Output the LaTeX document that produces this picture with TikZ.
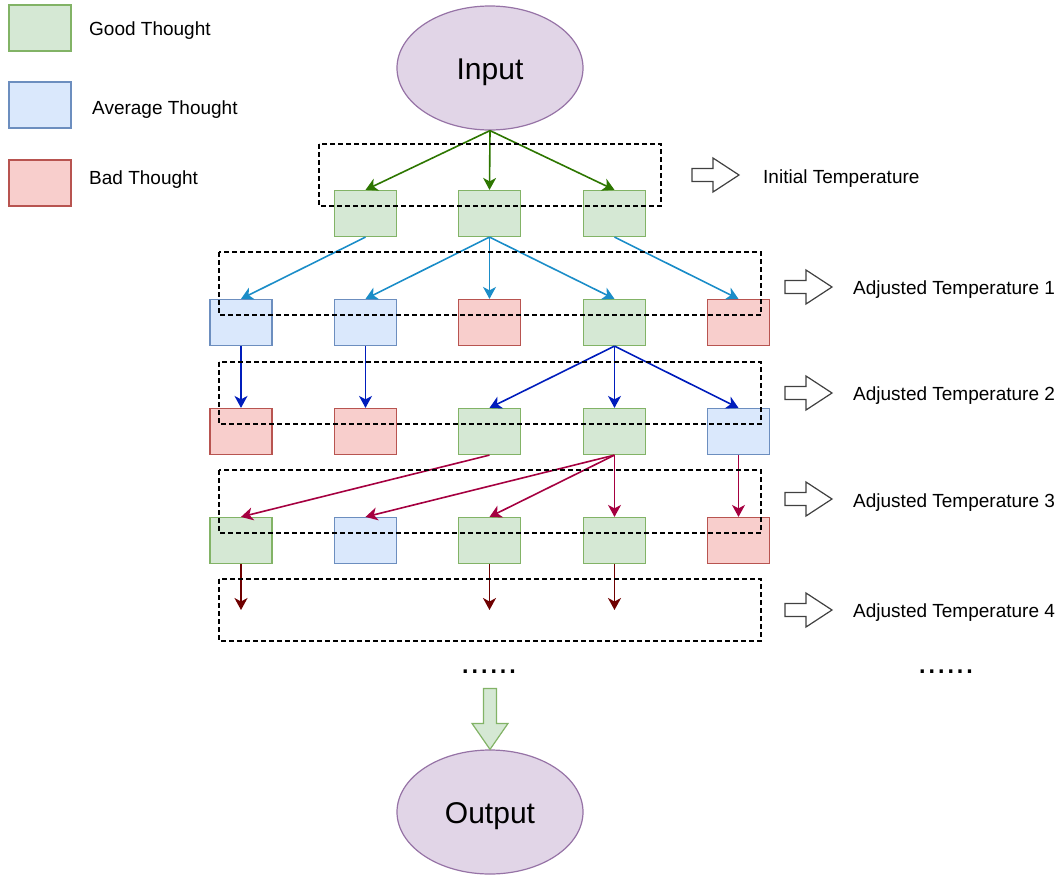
\documentclass[tikz,border=0pt]{standalone}
\usepackage{fontspec}
\setmainfont{Liberation Sans}
\usepackage{xcolor}
\usetikzlibrary{arrows.meta,shapes.geometric}

\definecolor{goodfill}{HTML}{D5E8D4}
\definecolor{gooddraw}{HTML}{82B366}
\definecolor{avgfill}{HTML}{DAE8FC}
\definecolor{avgdraw}{HTML}{6C8EBF}
\definecolor{badfill}{HTML}{F8CECC}
\definecolor{baddraw}{HTML}{B85450}
\definecolor{iofill}{HTML}{E1D5E7}
\definecolor{iodraw}{HTML}{9673A6}
\definecolor{lvlzero}{HTML}{2D7600}
\definecolor{lvlone}{HTML}{1B8DC8}
\definecolor{lvltwo}{HTML}{001DBC}
\definecolor{lvlthree}{HTML}{A50040}
\definecolor{lvlfour}{HTML}{6F0000}

\tikzset{
  thought/.style={draw,line width=1.2pt,minimum width=62pt,minimum height=46pt,inner sep=0pt},
  good/.style={thought,fill=goodfill,draw=gooddraw},
  avg/.style={thought,fill=avgfill,draw=avgdraw},
  bad/.style={thought,fill=badfill,draw=baddraw},
  io/.style={ellipse,draw=iodraw,fill=iofill,line width=1.2pt,minimum width=186pt,minimum height=124pt,
    text height=30pt,text depth=6.5pt,font=\fontsize{30}{36}\selectfont},
  lbl/.style={anchor=west,inner sep=0pt,font=\fontsize{19}{22}\selectfont},
  tier/.style={draw,line width=1.3pt,dash pattern=on 5pt off 3pt},
  link/.style={-{Stealth[length=12pt,width=13pt,inset=3.5pt]},line width=1.6pt},
  hollow/.style={draw=black!75,fill=white,line width=1.2pt,line join=miter}
}

\begin{document}
\begin{tikzpicture}[x=1pt,y=-1pt]
\useasboundingbox (0,0) rectangle (1063,876);

% Legend
\node[good] (lgood) at (40,28) {};
\node[avg] (lavg) at (40,105) {};
\node[bad] (lbad) at (40,183) {};
\node[lbl] (tgood) at (89,31) {Good Thought};
\node[lbl] (tavg) at (92,110) {Average Thought};
\node[lbl] (tbad) at (89,180) {Bad Thought};

% Input and output
\node[io] (in) at (490,68) {Input};
\node[io] (out) at (490,812) {Output};

% Thoughts, row 0
\node[good] (n01) at (365.5,213.5) {};
\node[good] (n02) at (489.5,213.5) {};
\node[good] (n03) at (614.5,213.5) {};

% Thoughts, row 1
\node[avg] (n11) at (241,322.5) {};
\node[avg] (n12) at (365.5,322.5) {};
\node[bad] (n13) at (489.5,322.5) {};
\node[good] (n14) at (614.5,322.5) {};
\node[bad] (n15) at (738.5,322.5) {};

% Thoughts, row 2
\node[bad] (n21) at (241,431.5) {};
\node[bad] (n22) at (365.5,431.5) {};
\node[good] (n23) at (489.5,431.5) {};
\node[good] (n24) at (614.5,431.5) {};
\node[avg] (n25) at (738.5,431.5) {};

% Thoughts, row 3
\node[good] (n31) at (241,540.5) {};
\node[avg] (n32) at (365.5,540.5) {};
\node[good] (n33) at (489.5,540.5) {};
\node[good] (n34) at (614.5,540.5) {};
\node[bad] (n35) at (738.5,540.5) {};

% Open ends, row 4
\coordinate (c41) at (241,610);
\coordinate (c43) at (489.5,610);
\coordinate (c44) at (614.5,610);

% Connections
\draw[link,lvlzero] (in.south) -- (n01.north);
\draw[link,lvlzero] (in.south) -- (n02.north);
\draw[link,lvlzero] (in.south) -- (n03.north);

\draw[link,lvlone] (n01.south) -- (n11.north);
\draw[link,lvlone] (n02.south) -- (n12.north);
\draw[link,lvlone] (n02.south) -- (n13.north);
\draw[link,lvlone] (n02.south) -- (n14.north);
\draw[link,lvlone] (n03.south) -- (n15.north);

\draw[link,lvltwo] (n11.south) -- (n21.north);
\draw[link,lvltwo] (n12.south) -- (n22.north);
\draw[link,lvltwo] (n14.south) -- (n23.north);
\draw[link,lvltwo] (n14.south) -- (n24.north);
\draw[link,lvltwo] (n14.south) -- (n25.north);

\draw[link,lvlthree] (n23.south) -- (n31.north);
\draw[link,lvlthree] (n24.south) -- (n32.north);
\draw[link,lvlthree] (n24.south) -- (n33.north);
\draw[link,lvlthree] (n24.south) -- (n34.north);
\draw[link,lvlthree] (n25.south) -- (n35.north);

\draw[link,lvlfour] (n31.south) -- (c41);
\draw[link,lvlfour] (n33.south) -- (c43);
\draw[link,lvlfour] (n34.south) -- (c44);

% Temperature tiers
\draw[tier] (319,144) rectangle (661,206);
\draw[tier] (219,252) rectangle (761,315);
\draw[tier] (219,362) rectangle (761,424);
\draw[tier] (219,470) rectangle (761,533);
\draw[tier] (219,579) rectangle (761,641);

% Tier arrows and labels
\foreach \x/\y in {692/175,785/287,785/393,785/499,785/610}
  \draw[hollow] (\x,\y) ++(0,-6.5) -- ++(21,0) -- ++(0,-10.5) -- ++(26,17)
    -- ++(-26,17) -- ++(0,-10.5) -- ++(-21,0) -- cycle;
\node[lbl] (lt0) at (763,179) {Initial Temperature};
\node[lbl] (lt1) at (853,290) {Adjusted Temperature 1};
\node[lbl] (lt2) at (853,396) {Adjusted Temperature 2};
\node[lbl] (lt3) at (853,503) {Adjusted Temperature 3};
\node[lbl] (lt4) at (853,613) {Adjusted Temperature 4};

% More steps
\node[font=\fontsize{34}{38}\selectfont,inner sep=0pt] (more) at (489,672) {......};
\node[font=\fontsize{34}{38}\selectfont,inner sep=0pt] (moretemp) at (946,672) {......};

% Result arrow
\draw[draw=gooddraw,fill=goodfill,line width=1.2pt,line join=miter]
  (out.north) -- ++(-18,-26) -- ++(11.5,0) -- ++(0,-35) -- ++(13,0)
  -- ++(0,35) -- ++(11.5,0) -- cycle;
\end{tikzpicture}
\end{document}
